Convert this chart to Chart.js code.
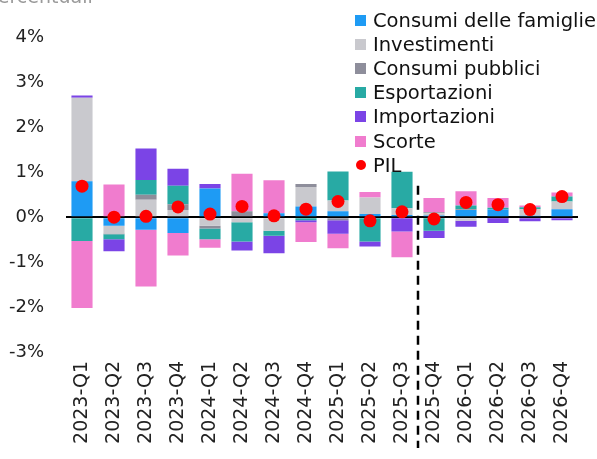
<!DOCTYPE html>
<html><head><meta charset="utf-8">
<script src="https://cdn.jsdelivr.net/npm/chart.js@4.4.1/dist/chart.umd.min.js"></script>
<style>
html,body{margin:0;padding:0;background:#fff;}
#wrap{position:relative;width:597px;height:459px;overflow:hidden;}
#c{position:absolute;left:0;top:0;}
#legend{position:absolute;left:355px;top:8px;width:260px;font-family:"DejaVu Sans";font-size:19.5px;color:#111;}
.item{height:24.2px;display:flex;align-items:center;white-space:nowrap;}
.sw{width:11px;height:11px;margin-right:7px;flex:none;}
.dot{width:10px;height:10px;border-radius:50%;margin-left:0.5px;margin-right:7.5px;}
#unit{position:absolute;left:-13px;top:-15px;font-family:"DejaVu Sans";font-size:19px;color:#9a9a9a;}
</style></head>
<body>
<div id="wrap">
<canvas id="c" width="597" height="459"></canvas>
<div id="unit">Percentuali</div>
<div id="legend"></div>
</div>
<script>
const categories = ["2023-Q1","2023-Q2","2023-Q3","2023-Q4","2024-Q1","2024-Q2","2024-Q3","2024-Q4","2025-Q1","2025-Q2","2025-Q3","2025-Q4","2026-Q1","2026-Q2","2026-Q3","2026-Q4"];
const consumiFamiglie = [0.80,-0.19,-0.28,-0.35,0.64,0.00,0.09,0.24,0.13,0.07,0.05,0.04,0.16,0.17,0.03,0.18];
const investimenti    = [1.86,-0.17,0.39,0.16,-0.19,-0.11,-0.30,0.43,0.24,0.37,0.15,0.05,-0.08,-0.02,0.15,0.17];
const consumiPubblici = [0.00,-0.02,0.11,0.13,-0.06,0.13,0.00,0.07,-0.07,0.00,0.00,0.02,0.02,0.00,0.00,0.00];
const esportazioni    = [-0.53,-0.11,0.33,0.41,-0.24,-0.43,-0.11,-0.07,0.65,-0.54,0.81,-0.30,0.08,0.04,0.04,0.11];
const importazioni    = [0.05,-0.27,0.70,0.38,0.10,-0.20,-0.39,-0.04,-0.30,-0.11,-0.32,-0.16,-0.13,-0.11,-0.09,-0.07];
const scorte          = [-1.49,0.73,-1.26,-0.50,-0.19,0.84,0.73,-0.44,-0.32,0.12,-0.57,0.32,0.32,0.22,0.04,0.09];
const pil             = [0.69,0.00,0.02,0.23,0.07,0.24,0.03,0.18,0.35,-0.08,0.12,-0.04,0.33,0.28,0.17,0.46];
const yTicks = [-3,-2,-1,0,1,2,3,4];
const forecastStartAfter = "2025-Q3";

const barSeries = [
  {label:"Consumi delle famiglie", data:consumiFamiglie, color:"#1E9BF4"},
  {label:"Investimenti", data:investimenti, color:"#C9C9CE"},
  {label:"Consumi pubblici", data:consumiPubblici, color:"#8E8E9B"},
  {label:"Esportazioni", data:esportazioni, color:"#28AAA4"},
  {label:"Importazioni", data:importazioni, color:"#7B44E6"},
  {label:"Scorte", data:scorte, color:"#F07CCE"}
];
const pilColor = "#FF0000";

const datasets = [{
  type:"line", label:"PIL", data:pil, stack:"pil", showLine:false,
  pointRadius:6.5, pointBackgroundColor:pilColor, pointBorderWidth:0,
  borderColor:pilColor, order:0
}].concat(barSeries.map(s => ({
  type:"bar", label:s.label, data:s.data, backgroundColor:s.color,
  borderWidth:0, stack:"c", order:1,
  barPercentage:0.66, categoryPercentage:1
})));

// legend (HTML)
const lg = document.getElementById("legend");
barSeries.forEach(s => {
  const d = document.createElement("div"); d.className = "item";
  d.innerHTML = '<span class="sw" style="background:'+s.color+'"></span><span></span>';
  d.lastChild.textContent = s.label; lg.appendChild(d);
});
{
  const d = document.createElement("div"); d.className = "item";
  d.innerHTML = '<span class="sw dot" style="background:'+pilColor+'"></span><span>PIL</span>';
  lg.appendChild(d);
}

const dashPlugin = {
  id:"dash",
  afterDatasetsDraw(chart){
    const x = chart.scales.x, y = chart.scales.y, ctx = chart.ctx;
    const idx = categories.indexOf(forecastStartAfter) + 0.5;
    const px = x.getPixelForValue(idx);
    ctx.save();
    ctx.strokeStyle = "#000"; ctx.lineWidth = 2.5; ctx.setLineDash([9,6]);
    ctx.beginPath(); ctx.moveTo(px, y.getPixelForValue(0.7)); ctx.lineTo(px, chart.height - 11); ctx.stroke();
    ctx.restore();
  }
};

new Chart(document.getElementById("c"), {
  data:{labels:categories, datasets},
  options:{
    responsive:false, animation:false, devicePixelRatio:1,
    layout:{padding:{top:37.5, right:19, bottom:0, left:0}},
    plugins:{legend:{display:false}, tooltip:{enabled:false}},
    scales:{
      x:{stacked:true, offset:true,
        grid:{display:false, drawTicks:false}, border:{display:false},
        ticks:{autoSkip:false, maxRotation:90, minRotation:90, padding:9,
          color:"#222", font:{family:"DejaVu Sans", size:19}},
        afterFit(s){ s.height = 107; }
      },
      y:{stacked:true, min:-3, max:4,
        afterBuildTicks(s){ s.ticks = yTicks.map(v => ({value:v})); },
        grid:{drawTicks:false, lineWidth:2,
          color:(c)=> c.tick && c.tick.value === 0 ? "#000" : "rgba(0,0,0,0)"},
        border:{display:false},
        ticks:{padding:22, color:"#222", font:{family:"DejaVu Sans", size:18},
          callback:(v)=> v + "%"},
        afterFit(s){ s.width = 66; }
      }
    }
  },
  plugins:[dashPlugin]
});
</script>
</body></html>
